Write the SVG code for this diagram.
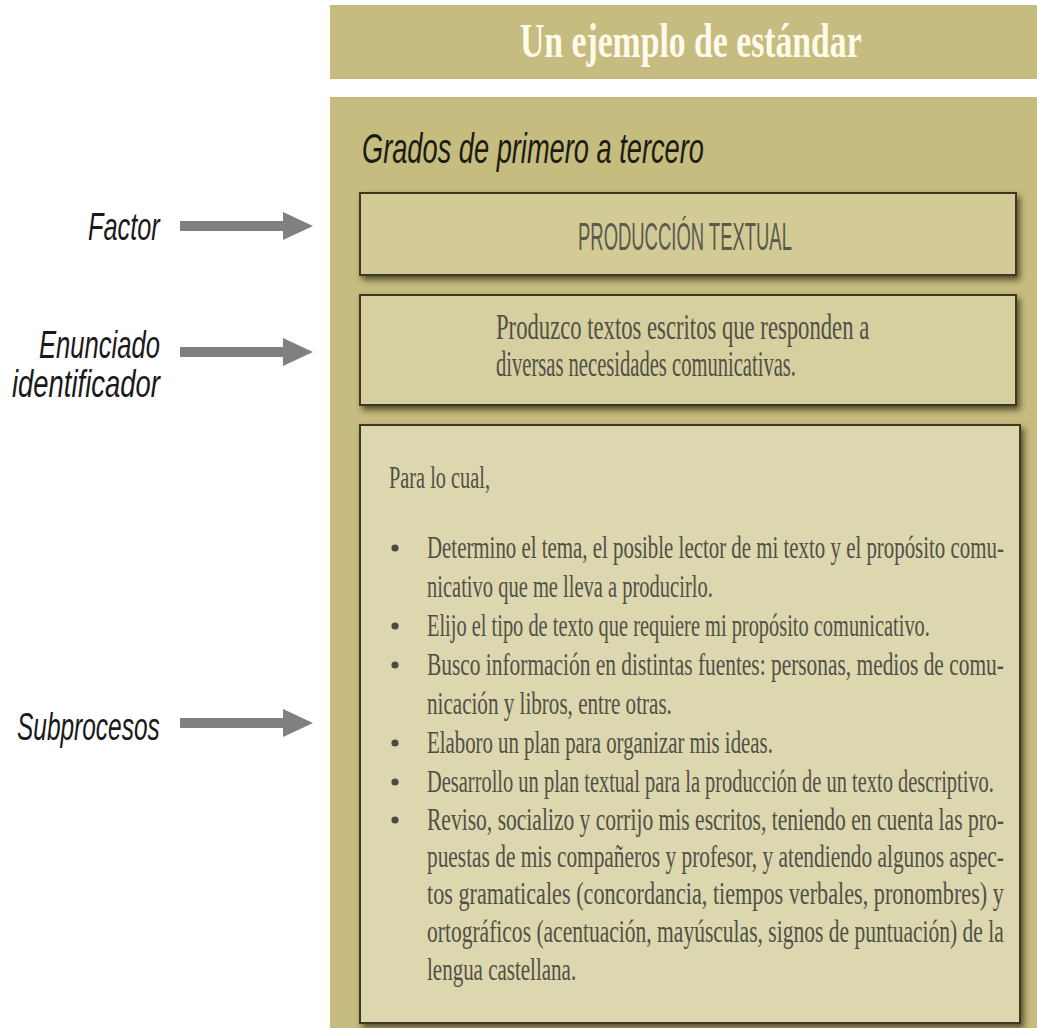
<svg xmlns="http://www.w3.org/2000/svg" width="1037" height="1028" viewBox="0 0 1037 1028">
<style>
.lbl{font-family:"Liberation Sans","DejaVu Sans",sans-serif;font-style:italic;font-size:38px;fill:#1a1a1a}
.body{font-family:"Liberation Serif","DejaVu Serif",serif;font-size:32px;fill:#505046}
.box{stroke:#3c3820;stroke-width:2}
.conn{stroke:#808080;stroke-width:10;fill:none}
.dot{fill:#4a4a40}
</style>
<defs>
<marker id="ah" viewBox="0 0 30 28" markerWidth="30" markerHeight="28" refX="5" refY="14" markerUnits="userSpaceOnUse" orient="auto">
<path d="M0,0 L30,14 L0,28 z" fill="#808080"/>
</marker>
<filter id="sh" x="-5%" y="-10%" width="115%" height="130%">
<feDropShadow dx="3" dy="4" stdDeviation="3" flood-color="#2e2a10" flood-opacity="0.75"/>
</filter>
</defs>
<rect width="1037" height="1028" fill="#ffffff"/>
<g id="header">
<rect x="330" y="5" width="707" height="74" fill="#c6bc7f"/>
<g transform="translate(520,57) scale(0.7,1)">
<text x="0" y="0" font-family="'Liberation Serif',serif" font-weight="bold" font-size="48" fill="#fffbea" textLength="488" lengthAdjust="spacingAndGlyphs">Un ejemplo de estándar</text>
</g>
</g>
<g id="panel">
<rect x="330" y="97" width="707" height="931" fill="#c6bc7f"/>
<g transform="translate(362,163) scale(0.65,1)">
<text x="0" y="0" font-family="'Liberation Sans',sans-serif" font-style="italic" font-size="42" fill="#1c1c12" textLength="526" lengthAdjust="spacingAndGlyphs">Grados de primero a tercero</text>
</g>
</g>
<g id="factor">
<rect class="box" x="360" y="193" width="656" height="82" fill="#d3cb96" filter="url(#sh)"/>
<g transform="translate(578,250) scale(0.46,1)">
<text x="0" y="0" font-family="'Liberation Sans',sans-serif" font-size="39" fill="#5a5a4c" textLength="465" lengthAdjust="spacingAndGlyphs">PRODUCCIÓN TEXTUAL</text>
</g>
</g>
<g id="enunciado">
<rect class="box" x="360" y="295" width="656" height="110" fill="#d6cfa0" filter="url(#sh)"/>
<g transform="translate(496,0) scale(0.6,1)" font-family="'Liberation Serif',serif" font-size="35" fill="#505046">
<text x="0" y="339" textLength="622" lengthAdjust="spacingAndGlyphs">Produzco textos escritos que responden a</text>
<text x="0" y="376" textLength="500" lengthAdjust="spacingAndGlyphs">diversas necesidades comunicativas.</text>
</g>
</g>
<g id="subprocesos">
<rect class="box" x="360" y="425" width="660" height="598" fill="#dcd7ae" filter="url(#sh)"/>
<circle class="dot" cx="395" cy="548" r="3.6"/>
<circle class="dot" cx="395" cy="626" r="3.6"/>
<circle class="dot" cx="395" cy="665" r="3.6"/>
<circle class="dot" cx="395" cy="743" r="3.6"/>
<circle class="dot" cx="395" cy="782" r="3.6"/>
<circle class="dot" cx="395" cy="820" r="3.6"/>
<g transform="translate(427,0) scale(0.66,1)">
<text class="body" x="-57.6" y="488" textLength="153" lengthAdjust="spacingAndGlyphs">Para lo cual,</text>
<text class="body" x="0" y="558" textLength="874" lengthAdjust="spacingAndGlyphs">Determino el tema, el posible lector de mi texto y el propósito comu-</text>
<text class="body" x="0" y="597" textLength="433" lengthAdjust="spacingAndGlyphs">nicativo que me lleva a producirlo.</text>
<text class="body" x="0" y="636" textLength="762" lengthAdjust="spacingAndGlyphs">Elijo el tipo de texto que requiere mi propósito comunicativo.</text>
<text class="body" x="0" y="675" textLength="874" lengthAdjust="spacingAndGlyphs">Busco información en distintas fuentes: personas, medios de comu-</text>
<text class="body" x="0" y="714" textLength="371" lengthAdjust="spacingAndGlyphs">nicación y libros, entre otras.</text>
<text class="body" x="0" y="753" textLength="524" lengthAdjust="spacingAndGlyphs">Elaboro un plan para organizar mis ideas.</text>
<text class="body" x="0" y="792" textLength="859" lengthAdjust="spacingAndGlyphs">Desarrollo un plan textual para la producción de un texto descriptivo.</text>
<text class="body" x="0" y="830" textLength="874" lengthAdjust="spacingAndGlyphs">Reviso, socializo y corrijo mis escritos, teniendo en cuenta las pro-</text>
<text class="body" x="0" y="867" textLength="874" lengthAdjust="spacingAndGlyphs">puestas de mis compañeros y profesor, y atendiendo algunos aspec-</text>
<text class="body" x="0" y="904" textLength="874" lengthAdjust="spacingAndGlyphs">tos gramaticales (concordancia, tiempos verbales, pronombres) y</text>
<text class="body" x="0" y="942" textLength="874" lengthAdjust="spacingAndGlyphs">ortográficos (acentuación, mayúsculas, signos de puntuación) de la</text>
<text class="body" x="0" y="980" textLength="226" lengthAdjust="spacingAndGlyphs">lengua castellana.</text>
</g>
</g>
<g id="label-factor">
<g transform="translate(88,240) scale(0.64,1)"><text class="lbl" x="0" y="0" textLength="112" lengthAdjust="spacingAndGlyphs">Factor</text></g>
</g>
<g id="label-enunciado">
<g transform="translate(39,358) scale(0.64,1)"><text class="lbl" x="0" y="0" textLength="189" lengthAdjust="spacingAndGlyphs">Enunciado</text></g>
<g transform="translate(12,397) scale(0.64,1)"><text class="lbl" x="0" y="0" textLength="231" lengthAdjust="spacingAndGlyphs">identificador</text></g>
</g>
<g id="label-subprocesos">
<g transform="translate(17,740) scale(0.64,1)"><text class="lbl" x="0" y="0" textLength="223" lengthAdjust="spacingAndGlyphs">Subprocesos</text></g>
</g>
<g id="connectors">
<line class="conn" x1="180" y1="226" x2="288" y2="226" marker-end="url(#ah)"/>
<line class="conn" x1="180" y1="352" x2="288" y2="352" marker-end="url(#ah)"/>
<line class="conn" x1="180" y1="723" x2="288" y2="723" marker-end="url(#ah)"/>
</g>
</svg>
